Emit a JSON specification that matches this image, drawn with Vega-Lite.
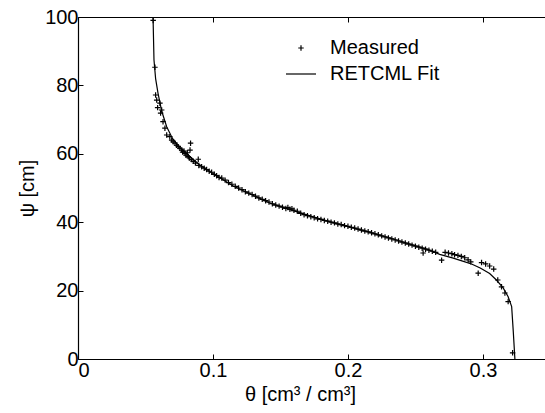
{
  "$schema": "https://vega.github.io/schema/vega-lite/v6.json",
  "autosize": {"type": "none"},
  "padding": {"left": 78, "top": 17, "right": 0, "bottom": 54},
  "width": 467,
  "height": 342,
  "background": "white",
  "config": {
    "view": {"stroke": null},
    "font": "Liberation Sans",
    "axis": {
      "domainColor": "black",
      "tickColor": "black",
      "labelColor": "black",
      "titleColor": "black",
      "labelFont": "Liberation Sans",
      "titleFont": "Liberation Sans",
      "labelFontSize": 20,
      "titleFontSize": 20,
      "titleFontWeight": "normal",
      "grid": false,
      "tickSize": -5,
      "domainWidth": 1.2,
      "tickWidth": 1
    },
    "legend": {
      "labelFontSize": 20,
      "labelFont": "Liberation Sans",
      "labelColor": "black",
      "labelOffset": 13,
      "rowPadding": 0,
      "padding": 0,
      "symbolStrokeColor": "black",
      "symbolStrokeWidth": 1.2
    }
  },
  "datasets": {
    "fit": [
      {"theta": 0.0556, "psi": 100}, {"theta": 0.0563, "psi": 87.4}, {"theta": 0.0575, "psi": 82},
      {"theta": 0.0593, "psi": 77.7}, {"theta": 0.062, "psi": 72.5}, {"theta": 0.0657, "psi": 67.9},
      {"theta": 0.07, "psi": 64.5}, {"theta": 0.075, "psi": 62}, {"theta": 0.0805, "psi": 60},
      {"theta": 0.09, "psi": 56.8}, {"theta": 0.097, "psi": 55}, {"theta": 0.104, "psi": 53.3},
      {"theta": 0.115, "psi": 50.6}, {"theta": 0.13, "psi": 47.8}, {"theta": 0.142, "psi": 45.6},
      {"theta": 0.16, "psi": 43.3}, {"theta": 0.175, "psi": 41.5}, {"theta": 0.192, "psi": 39.5},
      {"theta": 0.2, "psi": 38.7}, {"theta": 0.214, "psi": 37.3}, {"theta": 0.224, "psi": 36.1},
      {"theta": 0.236, "psi": 34.8}, {"theta": 0.25, "psi": 33.1}, {"theta": 0.26, "psi": 31.9},
      {"theta": 0.268, "psi": 30.6}, {"theta": 0.278, "psi": 29.5}, {"theta": 0.285, "psi": 28.6},
      {"theta": 0.292, "psi": 27.7}, {"theta": 0.298, "psi": 26.6}, {"theta": 0.305, "psi": 25},
      {"theta": 0.31, "psi": 23.1}, {"theta": 0.315, "psi": 20.8}, {"theta": 0.3187, "psi": 18.2},
      {"theta": 0.3213, "psi": 15.3}, {"theta": 0.3225, "psi": 8}, {"theta": 0.3237, "psi": 0}
    ],
    "measured": [
      {"theta": 0.0557, "psi": 99.0}, {"theta": 0.0570, "psi": 85.3},
      {"theta": 0.0575, "psi": 77.2}, {"theta": 0.0583, "psi": 75.7}, {"theta": 0.0590, "psi": 73.5},
      {"theta": 0.0607, "psi": 74.8}, {"theta": 0.0620, "psi": 72.8}, {"theta": 0.0612, "psi": 71.9},
      {"theta": 0.0630, "psi": 69.4}, {"theta": 0.0644, "psi": 67.5}, {"theta": 0.0657, "psi": 65.5},
      {"theta": 0.0680, "psi": 65.0}, {"theta": 0.0694, "psi": 64.0}, {"theta": 0.0705, "psi": 63.5},
      {"theta": 0.0719, "psi": 63.1}, {"theta": 0.0730, "psi": 62.5}, {"theta": 0.0743, "psi": 62.1},
      {"theta": 0.0755, "psi": 61.6}, {"theta": 0.0768, "psi": 61.1}, {"theta": 0.0775, "psi": 60.5},
      {"theta": 0.0785, "psi": 60.8}, {"theta": 0.0793, "psi": 60.1}, {"theta": 0.0800, "psi": 59.6},
      {"theta": 0.0810, "psi": 60.3}, {"theta": 0.0817, "psi": 59.2}, {"theta": 0.0825, "psi": 58.8},
      {"theta": 0.0830, "psi": 61.1}, {"theta": 0.0834, "psi": 63.1}, {"theta": 0.0840, "psi": 58.3},
      {"theta": 0.0854, "psi": 57.8}, {"theta": 0.0870, "psi": 57.3}, {"theta": 0.0891, "psi": 58.4},
      {"theta": 0.0895, "psi": 56.6}, {"theta": 0.0916, "psi": 56.2}, {"theta": 0.0935, "psi": 55.8},
      {"theta": 0.0953, "psi": 55.4}, {"theta": 0.0972, "psi": 54.9}, {"theta": 0.0990, "psi": 54.6},
      {"theta": 0.1010, "psi": 54.0}, {"theta": 0.1027, "psi": 53.6}, {"theta": 0.1045, "psi": 53.1},
      {"theta": 0.1065, "psi": 52.9}, {"theta": 0.109, "psi": 52.3}, {"theta": 0.1115, "psi": 51.6},
      {"theta": 0.114, "psi": 51.1}, {"theta": 0.1165, "psi": 50.5}, {"theta": 0.119, "psi": 50.0},
      {"theta": 0.1215, "psi": 49.5}, {"theta": 0.124, "psi": 48.9}, {"theta": 0.1265, "psi": 48.5},
      {"theta": 0.129, "psi": 48.1}, {"theta": 0.1315, "psi": 47.6}, {"theta": 0.134, "psi": 47.1},
      {"theta": 0.1365, "psi": 46.7}, {"theta": 0.139, "psi": 46.3}, {"theta": 0.1415, "psi": 45.9},
      {"theta": 0.144, "psi": 45.4}, {"theta": 0.1465, "psi": 45.0}, {"theta": 0.149, "psi": 44.7},
      {"theta": 0.1515, "psi": 44.4}, {"theta": 0.154, "psi": 44.0}, {"theta": 0.1555, "psi": 44.3},
      {"theta": 0.157, "psi": 43.8}, {"theta": 0.1585, "psi": 43.9}, {"theta": 0.160, "psi": 43.5},
      {"theta": 0.1625, "psi": 43.2}, {"theta": 0.165, "psi": 42.6}, {"theta": 0.1675, "psi": 42.2},
      {"theta": 0.170, "psi": 41.9}, {"theta": 0.1725, "psi": 41.6}, {"theta": 0.175, "psi": 41.3},
      {"theta": 0.1775, "psi": 41.0}, {"theta": 0.180, "psi": 40.8}, {"theta": 0.1825, "psi": 40.5},
      {"theta": 0.185, "psi": 40.3}, {"theta": 0.1875, "psi": 40.0}, {"theta": 0.190, "psi": 39.8},
      {"theta": 0.1925, "psi": 39.5}, {"theta": 0.195, "psi": 39.3}, {"theta": 0.1975, "psi": 39.0},
      {"theta": 0.200, "psi": 38.8}, {"theta": 0.2025, "psi": 38.5}, {"theta": 0.205, "psi": 38.3},
      {"theta": 0.2075, "psi": 38.0}, {"theta": 0.210, "psi": 37.7}, {"theta": 0.2125, "psi": 37.4},
      {"theta": 0.215, "psi": 37.2}, {"theta": 0.2175, "psi": 36.9}, {"theta": 0.220, "psi": 36.6},
      {"theta": 0.2225, "psi": 36.3}, {"theta": 0.225, "psi": 36.0}, {"theta": 0.2275, "psi": 35.7},
      {"theta": 0.230, "psi": 35.4}, {"theta": 0.2325, "psi": 35.1}, {"theta": 0.235, "psi": 34.8},
      {"theta": 0.2375, "psi": 34.5}, {"theta": 0.240, "psi": 34.2}, {"theta": 0.2425, "psi": 33.9},
      {"theta": 0.245, "psi": 33.6}, {"theta": 0.2475, "psi": 33.3}, {"theta": 0.250, "psi": 33.0},
      {"theta": 0.2525, "psi": 32.7}, {"theta": 0.2557, "psi": 31.0}, {"theta": 0.255, "psi": 32.4},
      {"theta": 0.2575, "psi": 32.1}, {"theta": 0.260, "psi": 31.8}, {"theta": 0.2625, "psi": 31.5},
      {"theta": 0.265, "psi": 31.2}, {"theta": 0.2694, "psi": 28.9}, {"theta": 0.272, "psi": 31.2},
      {"theta": 0.2745, "psi": 31.0}, {"theta": 0.277, "psi": 30.8}, {"theta": 0.279, "psi": 30.5},
      {"theta": 0.2815, "psi": 30.3}, {"theta": 0.284, "psi": 30.0}, {"theta": 0.2865, "psi": 29.6},
      {"theta": 0.289, "psi": 29.0}, {"theta": 0.291, "psi": 28.4}, {"theta": 0.2965, "psi": 25.1},
      {"theta": 0.299, "psi": 28.2}, {"theta": 0.302, "psi": 27.8}, {"theta": 0.305, "psi": 27.2},
      {"theta": 0.308, "psi": 26.3}, {"theta": 0.311, "psi": 23.1}, {"theta": 0.3138, "psi": 21.1},
      {"theta": 0.3163, "psi": 19.3}, {"theta": 0.3187, "psi": 16.8}, {"theta": 0.322, "psi": 1.8}
    ]
  },
  "layer": [
    {
      "data": {"name": "fit"},
      "mark": {"type": "line", "color": "black", "strokeWidth": 1.2, "clip": true},
      "encoding": {
        "x": {
          "field": "theta", "type": "quantitative",
          "scale": {"domain": [0, 0.346], "nice": false, "zero": false},
          "axis": {
            "orient": "top", "values": [0, 0.1, 0.2, 0.3], "labels": false, "title": null
          }
        },
        "y": {
          "field": "psi", "type": "quantitative",
          "scale": {"domain": [0, 100], "nice": false},
          "axis": {
            "values": [0, 20, 40, 60, 80, 100], "labelPadding": 5,
            "title": "ψ [cm]", "titlePadding": 7
          }
        }
      }
    },
    {
      "data": {"name": "measured"},
      "transform": [{"calculate": "'Measured'", "as": "series"}],
      "mark": {"type": "point", "filled": false, "stroke": "black", "strokeWidth": 1.2, "opacity": 1, "clip": true},
      "encoding": {
        "x": {
          "field": "theta", "type": "quantitative",
          "axis": {
            "orient": "bottom", "values": [0, 0.1, 0.2, 0.3],
            "labelExpr": "datum.value == 0 ? '0' : format(datum.value, '.1f')",
            "labelPadding": 6, "title": "θ [cm³ / cm³]", "titlePadding": 4, "titleX": 222
          }
        },
        "y": {"field": "psi", "type": "quantitative"},
        "shape": {
          "field": "series", "type": "nominal",
          "scale": {"domain": ["Measured", "RETCML Fit"], "range": ["M-1,0L1,0M0,-1L0,1", "stroke"]},
          "legend": {"orient": "none", "legendX": 207, "legendY": 21, "title": null}
        },
        "size": {
          "field": "series", "type": "nominal",
          "scale": {"domain": ["Measured", "RETCML Fit"], "range": [30, 900]},
          "legend": {"orient": "none", "legendX": 207, "legendY": 21, "title": null}
        }
      }
    }
  ]
}
